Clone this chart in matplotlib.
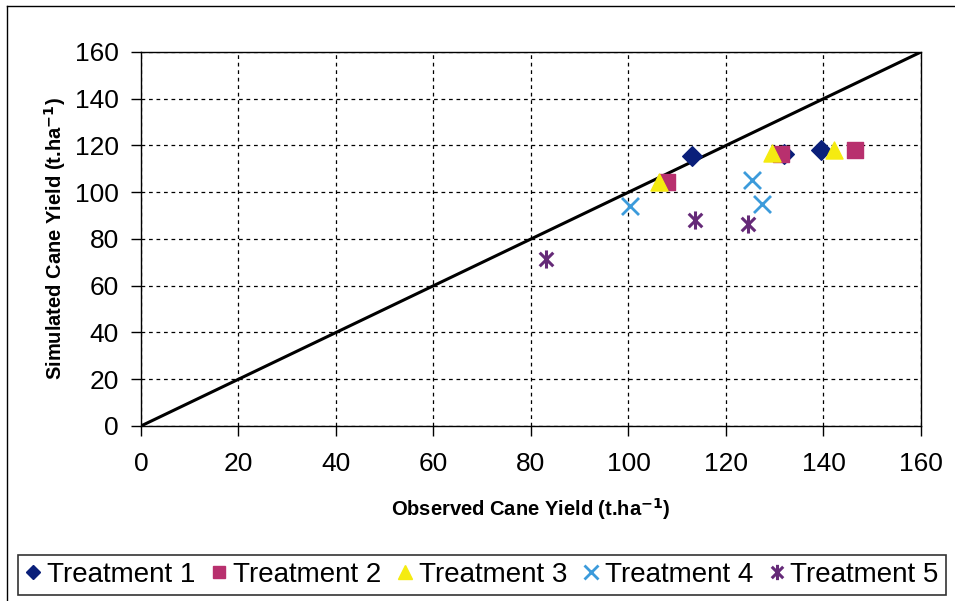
import matplotlib
matplotlib.use("Agg")
import matplotlib.pyplot as plt
from matplotlib.path import Path
from matplotlib.lines import Line2D

plt.rcParams['font.family'] = ['Liberation Sans', 'DejaVu Sans']

# Data (observed, simulated)
t1_obs = [113.0, 131.8, 139.5]
t1_sim = [115.5, 116.4, 118.0]
t2_obs = [107.8, 131.2, 146.5]
t2_sim = [104.5, 116.4, 118.0]
t3_obs = [106.2, 129.5, 142.2]
t3_sim = [104.5, 116.8, 118.0]
t4_obs = [100.4, 125.4, 127.3]
t4_sim = [94.0, 105.2, 94.8]
t5_obs = [83.0, 113.7, 124.6]
t5_sim = [71.6, 88.0, 86.6]

labels = ["Treatment 1", "Treatment 2", "Treatment 3", "Treatment 4", "Treatment 5"]
ticks = [0, 20, 40, 60, 80, 100, 120, 140, 160]

star = Path([(0, -1), (0, 1), (-0.75, -0.75), (0.75, 0.75), (-0.75, 0.75), (0.75, -0.75)],
            [Path.MOVETO, Path.LINETO, Path.MOVETO, Path.LINETO, Path.MOVETO, Path.LINETO])

c1, c2, c3, c4, c5 = '#0A1F7A', '#B8306E', '#F5EB10', '#3C9BDB', '#652A78'

fig = plt.figure(figsize=(9.55, 6.01), dpi=100)
ax = fig.add_axes([0.1476, 0.2912, 0.8168, 0.6223])

ax.plot([0, 160], [0, 160], color='black', lw=2.2, zorder=2)

ax.scatter(t1_obs, t1_sim, marker='D', s=100, color=c1, zorder=3, label=labels[0])
ax.scatter(t2_obs, t2_sim, marker='s', s=120, color=c2, zorder=3, label=labels[1])
ax.scatter(t3_obs, t3_sim, marker='^', s=150, color=c3, zorder=3, label=labels[2])
ax.scatter(t4_obs, t4_sim, marker='x', s=150, color=c4, linewidths=2.0, zorder=3, label=labels[3])
ax.scatter(t5_obs, t5_sim, marker=star, s=170, color=c5, linewidths=2.2, zorder=3, label=labels[4])

ax.set_xlim(0, 160)
ax.set_ylim(0, 160)
ax.set_xticks(ticks)
ax.set_yticks(ticks)
ax.tick_params(labelsize=19, length=7, width=1, direction='out')
ax.tick_params(axis='y', pad=9)
ax.tick_params(axis='x', pad=12)
ax.grid(True, color='black', linestyle=(0, (3, 3)), lw=0.9)
for s in ax.spines.values():
    s.set_color('black')
    s.set_linewidth(1.0)

ax.set_xlabel('Observed Cane Yield (t.ha$^{\\mathbf{-1}}$)', fontsize=14.5, fontweight='bold', labelpad=14)
ax.set_ylabel('Simulated Cane Yield (t.ha$^{\\mathbf{-1}}$)', fontsize=14.5, fontweight='bold', labelpad=5)

handles = [
    Line2D([], [], ls='none', marker='D', ms=7, color=c1),
    Line2D([], [], ls='none', marker='s', ms=9, color=c2),
    Line2D([], [], ls='none', marker='^', ms=10, color=c3),
    Line2D([], [], ls='none', marker='x', ms=10, mew=2, color=c4),
    Line2D([], [], ls='none', marker=star, ms=11, mew=2.2, color=c5),
]
leg = fig.legend(handles, labels, loc='center', bbox_to_anchor=(0.5045, 0.0433), ncol=5,
                 fontsize=20, frameon=True, fancybox=False, edgecolor='black',
                 handlelength=0.6, handletextpad=0.2, columnspacing=0.55, borderpad=0.25,
                 borderaxespad=0)
leg.get_frame().set_linewidth(1.2)

# outer chart-area border (left and top visible)
fig.add_artist(Line2D([0.007, 0.007], [0.0, 0.99], color='black', lw=1.0, transform=fig.transFigure))
fig.add_artist(Line2D([0.007, 1.0], [0.99, 0.99], color='black', lw=1.0, transform=fig.transFigure))

fig.savefig('out.png', dpi=100)
